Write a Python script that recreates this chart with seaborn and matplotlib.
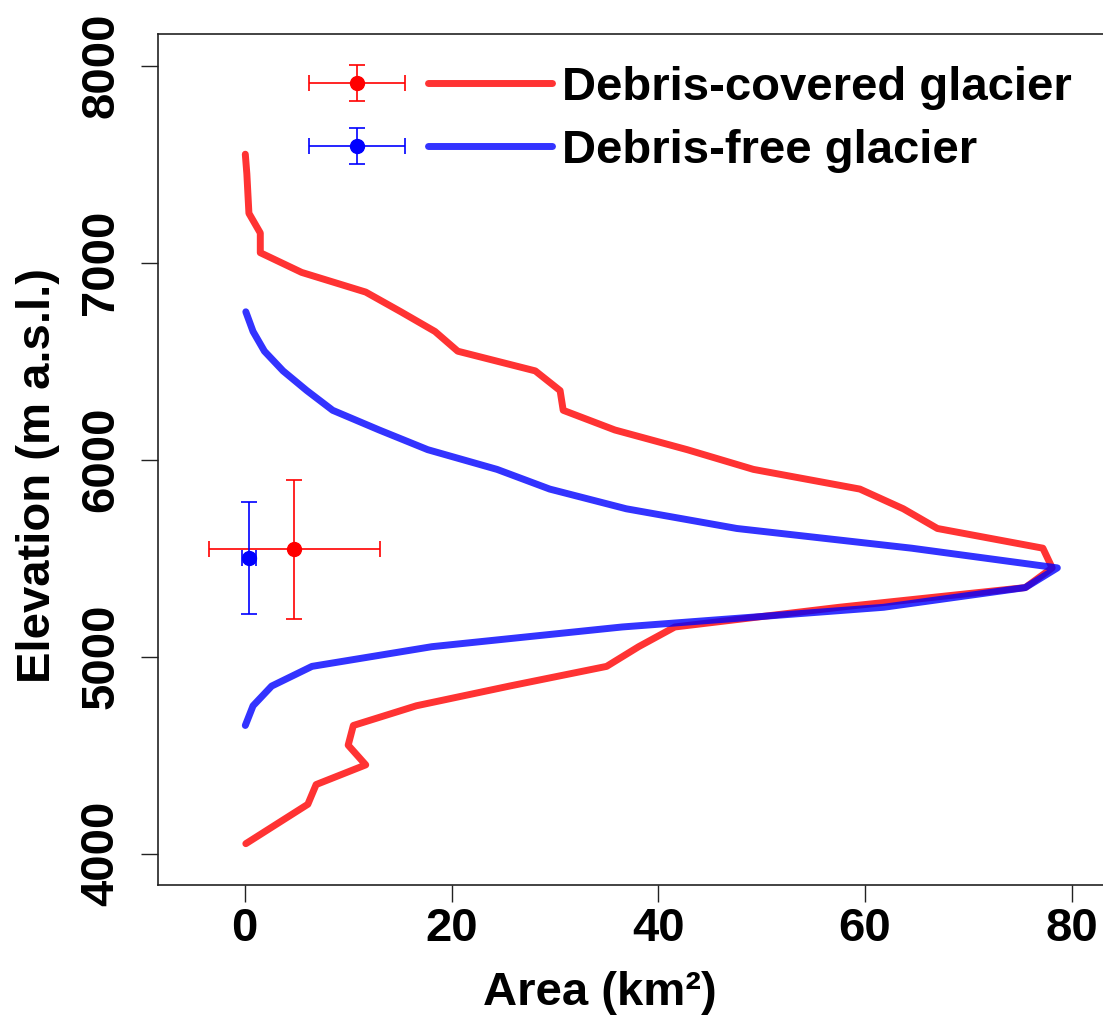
import numpy as np
import pandas as pd
import matplotlib
matplotlib.use("Agg")
import matplotlib.pyplot as plt
import seaborn as sns
from matplotlib.legend_handler import HandlerTuple, HandlerErrorbar
from matplotlib.container import ErrorbarContainer

# hypsometry, 100 m bins (bin centres)
elev_debris = [4050, 4150, 4250, 4350, 4450, 4550, 4650, 4750, 4850, 4950,
               5050, 5150, 5250, 5350, 5450, 5550, 5650, 5750, 5850, 5950,
               6050, 6150, 6250, 6350, 6450, 6550, 6650, 6750, 6850, 6950,
               7050, 7150, 7250, 7350, 7450, 7550]
area_debris = [0.1, 3.1, 6.1, 6.9, 11.7, 10.0, 10.5, 16.6, 25.6, 35.0,
               38.1, 41.6, 57.5, 75.5, 78.1, 77.2, 67.0, 63.7, 59.5, 49.2,
               42.8, 35.8, 30.8, 30.5, 28.1, 20.6, 18.4, 15.1, 11.7, 5.5,
               1.5, 1.5, 0.4, 0.3, 0.2, 0.05]

elev_clean = [4650, 4750, 4850, 4950, 5050, 5150, 5250, 5350, 5450, 5550,
              5650, 5750, 5850, 5950, 6050, 6150, 6250, 6350, 6450, 6550,
              6650, 6750]
area_clean = [0.05, 0.8, 2.6, 6.5, 18.1, 36.5, 61.8, 75.5, 78.6, 64.5,
              47.6, 36.9, 29.5, 24.4, 17.7, 13.0, 8.5, 6.0, 3.7, 1.9,
              0.8, 0.1]

# mean area / elevation with spread
mean_area = [4.8, 0.4]
sd_area = [8.3, 0.7]
mean_elev = [5545, 5500]
sd_elev = [352, 282]
labels = ["Debris-covered glacier", "Debris-free glacier"]
colors = ["red", "blue"]

df_d = pd.DataFrame({"area": area_debris, "elev": elev_debris})
df_c = pd.DataFrame({"area": area_clean, "elev": elev_clean})

sns.set_theme(style="ticks")
plt.rcParams["font.family"] = ["Liberation Sans", "DejaVu Sans"]
plt.rcParams["font.weight"] = "bold"
plt.rcParams["axes.labelweight"] = "bold"
plt.rcParams["text.color"] = "black"
plt.rcParams["axes.labelcolor"] = "black"
plt.rcParams["xtick.labelcolor"] = "black"
plt.rcParams["ytick.labelcolor"] = "black"
FS = 34

fig = plt.figure(figsize=(11.03, 10.16), dpi=100)
ax = fig.add_axes([0.1432, 0.1289, 0.8604, 0.8376])

lines = []
for df, c in zip([df_d, df_c], colors):
    sns.lineplot(data=df, x="area", y="elev", sort=False, estimator=None,
                 color=c, alpha=0.8, linewidth=5, ax=ax,
                 solid_capstyle="round", solid_joinstyle="round")
    lines.append(ax.lines[-1])

errs = []
for i, c in enumerate(colors):
    eb = ax.errorbar(mean_area[i], mean_elev[i], xerr=sd_area[i], yerr=sd_elev[i],
                     fmt="o", color=c, ms=10, elinewidth=1.2, capsize=6,
                     capthick=1.2, zorder=5)
    errs.append(eb)

ax.set_xlim(-8.4, 83.4)
ax.set_ylim(3840, 8160)
ax.set_xticks([0, 20, 40, 60, 80])
ax.set_yticks([4000, 5000, 6000, 7000, 8000])

for s in ["left", "bottom", "top"]:
    ax.spines[s].set_color("#222222")
    ax.spines[s].set_linewidth(1.2)
ax.spines["right"].set_visible(False)

ax.tick_params(axis="both", direction="out", length=12, width=1, color="#222222",
               labelsize=FS, labelcolor="black")
ax.tick_params(axis="x", pad=4)
ax.tick_params(axis="y", pad=13, labelrotation=90)
for t in ax.get_yticklabels():
    t.set_va("center")
for t in ax.get_xticklabels() + ax.get_yticklabels():
    t.set_fontweight("bold")

ax.set_xlabel("Area (km²)", fontsize=FS, fontweight="bold", color="black")
ax.set_ylabel("Elevation (m a.s.l.)", fontsize=FS, fontweight="bold", color="black")
ax.xaxis.set_label_coords(0.466, -0.101)
ax.yaxis.set_label_coords(-0.103, 0.481)

handles = [(errs[0], lines[0]), (errs[1], lines[1])]
leg = ax.legend(handles, labels, loc="upper left", bbox_to_anchor=(0.144, 0.963),
                frameon=False, fontsize=FS, borderpad=0, borderaxespad=0,
                handlelength=5.46, handletextpad=0.2, labelspacing=0.405,
                numpoints=1,
                handler_map={tuple: HandlerTuple(ndivide=2, pad=0.176),
                             ErrorbarContainer: HandlerErrorbar(xerr_size=1.02, yerr_size=0.38)})
for t in leg.get_texts():
    t.set_fontweight("bold")
    t.set_color("black")

fig.savefig("out.png", dpi=100)
